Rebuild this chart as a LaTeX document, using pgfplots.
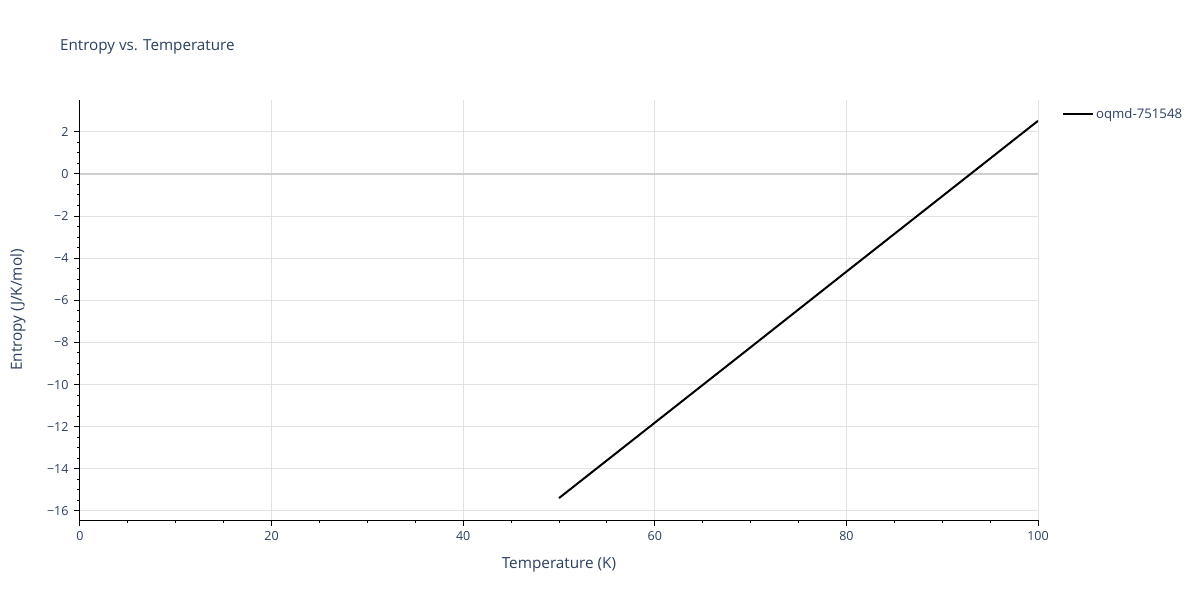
\documentclass[border=0pt]{standalone}
\usepackage{pgfplots}
\pgfplotsset{compat=1.18}
\usepackage{fontspec}
\setmainfont{Open Sans}
\definecolor{txt}{HTML}{2A3F5F}
\definecolor{gridc}{HTML}{E2E2E2}
\definecolor{zeroc}{HTML}{CFCFCF}
\newcommand{\fs}[1]{\fontsize{#1}{#1}\selectfont}
\begin{document}
\begin{tikzpicture}[x=1pt,y=1pt]
\path[use as bounding box] (0,0) rectangle (1200,600);
\begin{axis}[
  at={(80pt,80pt)}, anchor=south west,
  scale only axis, width=958pt, height=420pt,
  xmin=0, xmax=100, ymin=-16.43, ymax=3.51,
  axis x line*=bottom, axis y line*=left,
  axis line style={line width=1pt, black, -},
  xtick={0,20,...,100}, ytick={-16,-14,...,2},
  yticklabels={−16,−14,−12,−10,−8,−6,−4,−2,0,2},
  minor x tick num=3, minor y tick num=3,
  tick align=outside,
  major tick length=6pt, minor tick length=3pt,
  tick style={black, line width=1pt},
  grid=major,
  major grid style={gridc, line width=1pt},
  /pgf/number format/assume math mode=true,
  ticklabel style={font=\fs{12.5}, text=txt},
  xticklabel style={yshift=-2pt},
  yticklabel style={xshift=-2pt},
  title={Entropy vs. Temperature},
  title style={at={(axis description cs:-0.0209,1.1024)}, anchor=base west, inner sep=0pt, font=\fs{15.2}, text=txt},
  xlabel={Temperature (K)},
  xlabel style={at={(axis description cs:0.5,-0.1071)}, anchor=center, font=\fs{15.3}, text=txt},
  ylabel={Entropy (J/K/mol)},
  ylabel style={at={(axis description cs:-0.0647,0.5)}, anchor=center, font=\fs{15.3}, text=txt},
  legend style={at={(axis description cs:1.025,0.9667)}, anchor=west, draw=none, fill=none,
    inner sep=0pt, font=\fs{13.2}, text=txt},
  legend cell align=left,
  legend image code/.code={\draw[#1] (0pt,0pt) -- (30pt,0pt);},
]
\draw[zeroc, line width=2pt] (axis cs:0,0) -- (axis cs:100,0);
\addplot[black, line width=2pt] coordinates {
  (50,-15.39) (60,-11.81) (70,-8.23) (80,-4.64) (90,-1.06) (100,2.52)
};
\addlegendentry{oqmd-751548}
\end{axis}
\end{tikzpicture}
\end{document}
